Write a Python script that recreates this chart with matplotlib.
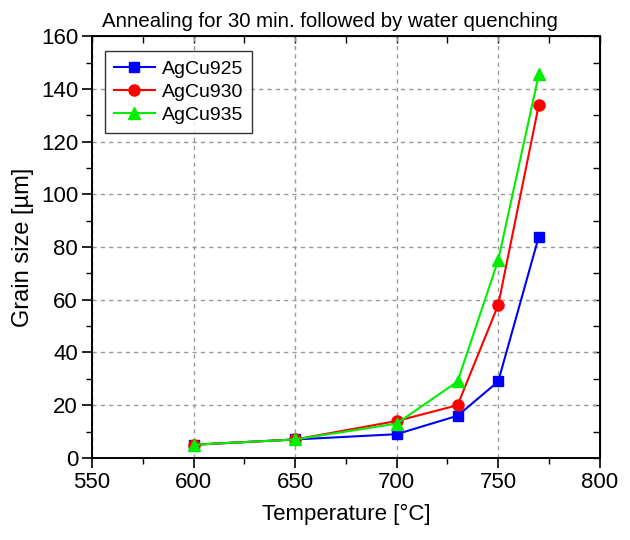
import matplotlib
matplotlib.use("Agg")
import matplotlib.pyplot as plt
from matplotlib.ticker import MultipleLocator, NullFormatter

plt.rcParams["font.family"] = ["Liberation Sans", "DejaVu Sans"]

temps = [600, 650, 700, 730, 750, 770]
agcu925 = [5, 7, 9, 16, 29, 84]
agcu930 = [5, 7, 14, 20, 58, 134]
agcu935 = [5, 7, 13, 29, 75, 145.5]

fig = plt.figure(figsize=(6.3, 5.4), dpi=100)
ax = fig.add_axes([0.146, 0.152, 0.806, 0.781])

ax.plot(temps, agcu925, color="#0000ff", marker="s", ms=7, lw=1.5, label="AgCu925")
ax.plot(temps, agcu930, color="#ff0000", marker="o", ms=8, lw=1.5, label="AgCu930")
ax.plot(temps, agcu935, color="#00ee00", marker="^", ms=8, lw=1.5, label="AgCu935")

ax.set_xlim(550, 800)
ax.set_ylim(0, 160)
ax.xaxis.set_major_locator(MultipleLocator(50))
ax.xaxis.set_minor_locator(MultipleLocator(25))
ax.yaxis.set_major_locator(MultipleLocator(20))
ax.yaxis.set_minor_locator(MultipleLocator(10))
ax.tick_params(which="both", direction="out", labelsize=16)
ax.tick_params(which="major", length=7, width=1.2, pad=3)
ax.tick_params(which="minor", length=4, width=1)
ax.grid(True, which="major", linestyle=(0, (3, 3)), color="#999999", lw=1)
for s in ax.spines.values():
    s.set_linewidth(1.4)

# mirrored ticks pointing inward on top and right
top = ax.secondary_xaxis("top")
top.xaxis.set_major_locator(MultipleLocator(50))
top.xaxis.set_minor_locator(MultipleLocator(25))
top.xaxis.set_major_formatter(NullFormatter())
top.tick_params(which="both", direction="in", length=5, width=1)
right = ax.secondary_yaxis("right")
right.yaxis.set_major_locator(MultipleLocator(20))
right.yaxis.set_minor_locator(MultipleLocator(10))
right.yaxis.set_major_formatter(NullFormatter())
right.tick_params(which="both", direction="in", length=5, width=1)

ax.set_xlabel("Temperature [°C]", fontsize=16, labelpad=8)
ax.set_ylabel("Grain size [µm]", fontsize=17, labelpad=5)
fig.text(0.524, 0.950, "Annealing for 30 min. followed by water quenching",
         fontsize=14.7, ha="center", va="baseline")

leg = ax.legend(loc="upper left", bbox_to_anchor=(0.026, 0.964), borderaxespad=0,
                fontsize=14, frameon=True, fancybox=False, edgecolor="black",
                handlelength=2.1, borderpad=0.45, labelspacing=0.28, handletextpad=0.35)
leg.get_frame().set_linewidth(1)

fig.savefig("out.png", dpi=100)
